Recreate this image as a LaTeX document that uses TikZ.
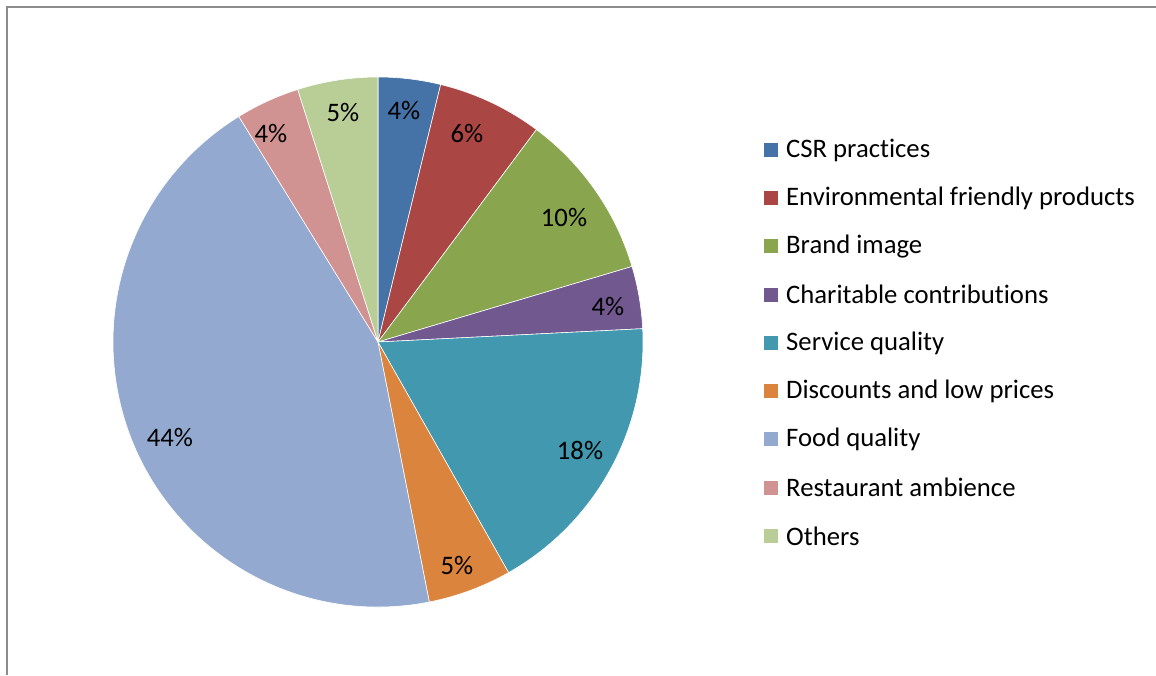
\documentclass[tikz,border=0pt]{standalone}
\usepackage{fontspec}
\setmainfont{Carlito}[Ligatures={NoCommon}]
\definecolor{cCSR}{HTML}{4572A7}
\definecolor{cEnv}{HTML}{AA4643}
\definecolor{cBrand}{HTML}{89A54E}
\definecolor{cChar}{HTML}{71588F}
\definecolor{cServ}{HTML}{4198AF}
\definecolor{cDisc}{HTML}{DB843D}
\definecolor{cFood}{HTML}{93A9CF}
\definecolor{cRest}{HTML}{D19392}
\definecolor{cOth}{HTML}{B9CD96}
\definecolor{frame}{HTML}{8C8C8C}
\tikzset{
  slice/.style={draw=white, line width=0.6pt},
  pct/.style={font=\fontsize{26.7}{30}\selectfont, inner sep=0pt},
  legbox/.style={minimum size=14pt, inner sep=0pt, draw=none},
  legtext/.style={font=\fontsize{26.7}{30}\selectfont, anchor=west, inner sep=0pt},
}
\begin{document}
\begin{tikzpicture}[x=1pt,y=1pt]
\useasboundingbox (0,0) rectangle (1156,675);
\fill[white] (0,0) rectangle (1156,675);
\draw[frame, line width=2pt] (7,0) -- (7,668) -- (1156,668);
\coordinate (c) at (378,333);
\def\R{265}
\newcommand\pieslice[3]{\fill[#3, slice] (c) -- ++(#1:\R) arc[start angle=#1, end angle=#2, radius=\R] -- cycle;}
\pieslice{90}{76.32}{cCSR}
\pieslice{76.32}{53.28}{cEnv}
\pieslice{53.28}{16.56}{cBrand}
\pieslice{16.56}{2.88}{cChar}
\pieslice{2.88}{-60.48}{cServ}
\pieslice{-60.48}{-78.84}{cDisc}
\pieslice{-78.84}{-238.32}{cFood}
\pieslice{-238.32}{-252.36}{cRest}
\pieslice{-252.36}{-270}{cOth}
% percentage labels
\node[pct] (p1) at (404,564) {4\%};
\node[pct] (p2) at (467,541) {6\%};
\node[pct] (p3) at (564,457) {10\%};
\node[pct] (p4) at (608,368) {4\%};
\node[pct] (p5) at (580,225) {18\%};
\node[pct] (p6) at (457,109) {5\%};
\node[pct] (p7) at (170,237) {44\%};
\node[pct] (p8) at (271,541) {4\%};
\node[pct] (p9) at (343,562) {5\%};
% legend
\foreach \i/\col/\txt in {0/cCSR/CSR practices,1/cEnv/Environmental friendly products,2/cBrand/Brand image,3/cChar/Charitable contributions,4/cServ/Service quality,5/cDisc/Discounts and low prices,6/cFood/Food quality,7/cRest/Restaurant ambience,8/cOth/Others}{
  \node[legbox, fill=\col] (lb\i) at (771,{675-150-48.25*\i}) {};
  \node[legtext] (lt\i) at (786,{675-150-48.25*\i}) {\txt};
}
\end{tikzpicture}
\end{document}
